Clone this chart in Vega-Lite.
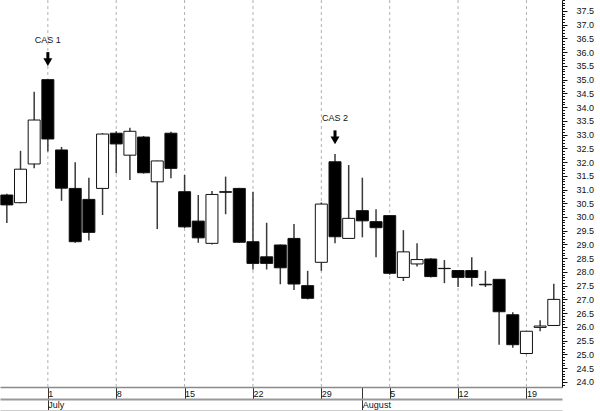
{
 "$schema": "https://vega.github.io/schema/vega-lite/v6.json",
 "width": 562,
 "height": 387,
 "autosize": {"type": "none"},
 "padding": {"left": 0, "top": 0, "right": 38, "bottom": 24},
 "background": "white",
 "config": {
  "view": {"stroke": null},
  "font": "Liberation Sans",
  "axis": {"labelFont": "Liberation Sans", "labelFontSize": 9, "labelColor": "#111", "grid": false, "title": null}
 },
 "datasets": {
  "prices": [
   {"date": "2002-06-26", "i": -3, "open": 30.8, "high": 30.85, "low": 29.78, "close": 30.44},
   {"date": "2002-06-27", "i": -2, "open": 30.52, "high": 32.41, "low": 30.5, "close": 31.74},
   {"date": "2002-06-28", "i": -1, "open": 31.93, "high": 34.56, "low": 31.77, "close": 33.53},
   {"date": "2002-07-01", "i": 0, "open": 35.0, "high": 35.0, "low": 32.38, "close": 32.84},
   {"date": "2002-07-02", "i": 1, "open": 32.44, "high": 32.55, "low": 30.59, "close": 31.05},
   {"date": "2002-07-03", "i": 2, "open": 31.04, "high": 31.99, "low": 29.06, "close": 29.1},
   {"date": "2002-07-04", "i": 3, "open": 30.64, "high": 31.43, "low": 29.14, "close": 29.44},
   {"date": "2002-07-05", "i": 4, "open": 31.04, "high": 33.05, "low": 30.07, "close": 33.02},
   {"date": "2002-07-08", "i": 5, "open": 33.05, "high": 33.12, "low": 31.59, "close": 32.66},
   {"date": "2002-07-09", "i": 6, "open": 32.25, "high": 33.25, "low": 31.35, "close": 33.12},
   {"date": "2002-07-10", "i": 7, "open": 32.91, "high": 32.95, "low": 31.58, "close": 31.61},
   {"date": "2002-07-11", "i": 8, "open": 31.28, "high": 32.05, "low": 29.56, "close": 32.04},
   {"date": "2002-07-12", "i": 9, "open": 33.05, "high": 33.1, "low": 31.41, "close": 31.77},
   {"date": "2002-07-15", "i": 10, "open": 30.92, "high": 31.53, "low": 29.6, "close": 29.64},
   {"date": "2002-07-16", "i": 11, "open": 29.85, "high": 30.8, "low": 29.06, "close": 29.24},
   {"date": "2002-07-17", "i": 12, "open": 29.04, "high": 30.95, "low": 29.0, "close": 30.82},
   {"date": "2002-07-18", "i": 13, "open": 30.92, "high": 31.47, "low": 30.1, "close": 30.9},
   {"date": "2002-07-19", "i": 14, "open": 31.04, "high": 31.06, "low": 29.06, "close": 29.08},
   {"date": "2002-07-22", "i": 15, "open": 29.1, "high": 30.92, "low": 28.09, "close": 28.31},
   {"date": "2002-07-23", "i": 16, "open": 28.55, "high": 29.79, "low": 28.09, "close": 28.31},
   {"date": "2002-07-24", "i": 17, "open": 28.98, "high": 29.0, "low": 27.55, "close": 28.15},
   {"date": "2002-07-25", "i": 18, "open": 29.22, "high": 29.74, "low": 27.34, "close": 27.56},
   {"date": "2002-07-26", "i": 19, "open": 27.5, "high": 28.04, "low": 27.0, "close": 27.04},
   {"date": "2002-07-29", "i": 20, "open": 28.35, "high": 30.53, "low": 28.04, "close": 30.47},
   {"date": "2002-07-30", "i": 21, "open": 32.01, "high": 32.29, "low": 29.04, "close": 29.28},
   {"date": "2002-07-31", "i": 22, "open": 29.22, "high": 31.89, "low": 29.2, "close": 29.95},
   {"date": "2002-08-01", "i": 23, "open": 30.23, "high": 31.43, "low": 29.26, "close": 29.86},
   {"date": "2002-08-02", "i": 24, "open": 29.83, "high": 30.28, "low": 28.53, "close": 29.61},
   {"date": "2002-08-05", "i": 25, "open": 30.05, "high": 30.05, "low": 27.9, "close": 27.95},
   {"date": "2002-08-06", "i": 26, "open": 27.8, "high": 29.52, "low": 27.67, "close": 28.73},
   {"date": "2002-08-07", "i": 27, "open": 28.29, "high": 29.04, "low": 28.2, "close": 28.45},
   {"date": "2002-08-08", "i": 28, "open": 28.47, "high": 28.5, "low": 27.8, "close": 27.83},
   {"date": "2002-08-09", "i": 29, "open": 28.13, "high": 28.43, "low": 27.59, "close": 28.12},
   {"date": "2002-08-12", "i": 30, "open": 28.05, "high": 28.05, "low": 27.45, "close": 27.8},
   {"date": "2002-08-13", "i": 31, "open": 28.05, "high": 28.53, "low": 27.47, "close": 27.8},
   {"date": "2002-08-14", "i": 32, "open": 27.55, "high": 28.04, "low": 27.45, "close": 27.53},
   {"date": "2002-08-15", "i": 33, "open": 27.73, "high": 27.73, "low": 25.35, "close": 26.55},
   {"date": "2002-08-16", "i": 34, "open": 26.44, "high": 26.53, "low": 25.24, "close": 25.35},
   {"date": "2002-08-19", "i": 35, "open": 25.03, "high": 25.85, "low": 25.0, "close": 25.84},
   {"date": "2002-08-20", "i": 36, "open": 25.98, "high": 26.24, "low": 25.84, "close": 26.03},
   {"date": "2002-08-21", "i": 37, "open": 26.05, "high": 27.57, "low": 26.05, "close": 27.0}
  ],
  "weeks": [
   {"i": 0, "day": "1"}, {"i": 5, "day": "8"}, {"i": 10, "day": "15"}, {"i": 15, "day": "22"},
   {"i": 20, "day": "29"}, {"i": 25, "day": "5"}, {"i": 30, "day": "12"}, {"i": 35, "day": "19"}
  ],
  "months": [{"i": 0, "month": "July"}, {"i": 23, "month": "August"}],
  "notes": [{"i": 0, "label": "CAS 1", "tip": 35.53}, {"i": 21, "label": "CAS 2", "tip": 32.68}]
 },
 "resolve": {"scale": {"x": "independent", "y": "independent"}},
 "layer": [
  {
   "layer": [
    {
     "data": {"name": "weeks"},
     "mark": {"type": "rule", "color": "#b0b0b0", "strokeDash": [3, 3], "strokeWidth": 1},
     "encoding": {
      "x": {"field": "i", "type": "quantitative", "scale": {"domain": [-3.5, 37.6], "nice": false, "zero": false, "padding": 0}, "axis": null}
     }
    },
    {
     "data": {"name": "prices"},
     "mark": {"type": "rule", "color": "#3a3a3a", "strokeWidth": 1.5},
     "encoding": {
      "x": {"field": "i", "type": "quantitative", "scale": {"domain": [-3.5, 37.6], "nice": false, "zero": false, "padding": 0}, "axis": null},
      "y": {"field": "low", "type": "quantitative", "scale": {"domain": [23.81, 37.9], "nice": false, "zero": false, "padding": 0}, "axis": null},
      "y2": {"field": "high"}
     }
    },
    {
     "data": {"name": "prices"},
     "mark": {"type": "bar", "width": 12, "stroke": "#111", "strokeWidth": 1},
     "encoding": {
      "x": {"field": "i", "type": "quantitative", "scale": {"domain": [-3.5, 37.6], "nice": false, "zero": false, "padding": 0}, "axis": null},
      "y": {"field": "open", "type": "quantitative", "scale": {"domain": [23.81, 37.9], "nice": false, "zero": false, "padding": 0}, "axis": null},
      "y2": {"field": "close"},
      "fill": {"condition": {"test": "datum.close < datum.open", "value": "#000"}, "value": "#fff"}
     }
    },
    {
     "data": {"name": "notes"},
     "mark": {"type": "tick", "orient": "vertical", "thickness": 3, "size": 8, "color": "#000", "opacity": 1, "yOffset": -9},
     "encoding": {
      "x": {"field": "i", "type": "quantitative", "scale": {"domain": [-3.5, 37.6], "nice": false, "zero": false, "padding": 0}, "axis": null},
      "y": {"field": "tip", "type": "quantitative", "scale": {"domain": [23.81, 37.9], "nice": false, "zero": false, "padding": 0}, "axis": null}
     }
    },
    {
     "data": {"name": "notes"},
     "mark": {"type": "point", "shape": "triangle-down", "filled": true, "color": "#000", "opacity": 1, "size": 80, "yOffset": -3},
     "encoding": {
      "x": {"field": "i", "type": "quantitative", "scale": {"domain": [-3.5, 37.6], "nice": false, "zero": false, "padding": 0}, "axis": null},
      "y": {"field": "tip", "type": "quantitative", "scale": {"domain": [23.81, 37.9], "nice": false, "zero": false, "padding": 0}, "axis": null}
     }
    },
    {
     "data": {"name": "notes"},
     "mark": {"type": "text", "fontSize": 9, "font": "Liberation Sans", "color": "#111", "dy": -25, "baseline": "middle", "align": "center"},
     "encoding": {
      "x": {"field": "i", "type": "quantitative", "scale": {"domain": [-3.5, 37.6], "nice": false, "zero": false, "padding": 0}, "axis": null},
      "y": {"field": "tip", "type": "quantitative", "scale": {"domain": [23.81, 37.9], "nice": false, "zero": false, "padding": 0}, "axis": null},
      "text": {"field": "label"}
     }
    }
   ]
  },
  {
   "data": {"name": "weeks"},
   "mark": {"type": "rule", "opacity": 0},
   "encoding": {
    "x": {"field": "i", "type": "quantitative", "scale": {"domain": [-3.5, 37.6], "nice": false, "zero": false, "padding": 0},
     "axis": {"orient": "bottom", "values": [0, 5, 10, 15, 20, 23, 25, 30, 35],
      "labelExpr": "datum.value==0?'1':datum.value==5?'8':datum.value==10?'15':datum.value==15?'22':datum.value==20?'29':datum.value==25?'5':datum.value==30?'12':datum.value==35?'19':''",
      "domainColor": "#8a8a8a", "domainWidth": 1.5, "tickSize": 12, "tickColor": "#333", "tickWidth": 1,
      "labelAlign": "left", "labelBaseline": "middle", "labelPadding": -6, "labelDx": 2,
      "labelFlush": false, "labelOverlap": false, "labelBound": false}}
   }
  },
  {
   "data": {"name": "months"},
   "mark": {"type": "rule", "opacity": 0},
   "encoding": {
    "x": {"field": "i", "type": "quantitative", "scale": {"domain": [-3.5, 37.6], "nice": false, "zero": false, "padding": 0},
     "axis": {"orient": "bottom", "offset": 12, "values": [0, 23], "labelExpr": "datum.value==0?'July':'August'",
      "domainColor": "#999", "domainWidth": 2, "tickSize": 11, "tickColor": "#333", "tickWidth": 1,
      "labelAlign": "left", "labelBaseline": "middle", "labelPadding": -5.5, "labelDx": 1,
      "labelFlush": false, "labelOverlap": false, "labelBound": false}}
   }
  },
  {
   "data": {"name": "months"},
   "mark": {"type": "rule", "opacity": 0},
   "encoding": {
    "x": {"field": "i", "type": "quantitative", "scale": {"domain": [-3.5, 37.6], "nice": false, "zero": false, "padding": 0},
     "axis": {"orient": "bottom", "offset": 23, "labels": false, "ticks": false, "domainColor": "#cccccc", "domainWidth": 1}}
   }
  },
  {
   "data": {"name": "prices"},
   "mark": {"type": "rule", "opacity": 0},
   "encoding": {
    "y": {"field": "low", "type": "quantitative", "scale": {"domain": [23.81, 37.9], "nice": false, "zero": false, "padding": 0},
     "axis": {"orient": "right", "values": [24, 24.5, 25, 25.5, 26, 26.5, 27, 27.5, 28, 28.5, 29, 29.5, 30, 30.5, 31, 31.5, 32, 32.5, 33, 33.5, 34, 34.5, 35, 35.5, 36, 36.5, 37, 37.5],
      "format": ".1f", "tickSize": 5, "tickColor": "#111", "domainColor": "#111", "domainWidth": 1,
      "labelPadding": 9, "labelFlush": false, "labelOverlap": false, "labelBound": false, "labelBaseline": "middle"}}
   }
  },
  {
   "data": {"name": "notes"},
   "mark": {"type": "rule", "opacity": 0},
   "encoding": {
    "y": {"field": "tip", "type": "quantitative", "scale": {"domain": [23.81, 37.9], "nice": false, "zero": false, "padding": 0},
     "axis": {"orient": "right", "labels": false, "domain": false, "tickSize": 2.5, "tickColor": "#111",
      "values": [23.9, 24.0, 24.1, 24.2, 24.3, 24.4, 24.5, 24.6, 24.7, 24.8, 24.9, 25.0, 25.1, 25.2, 25.3, 25.4, 25.5, 25.6, 25.7, 25.8, 25.9, 26.0, 26.1, 26.2, 26.3, 26.4, 26.5, 26.6, 26.7, 26.8, 26.9, 27.0, 27.1, 27.2, 27.3, 27.4, 27.5, 27.6, 27.7, 27.8, 27.9, 28.0, 28.1, 28.2, 28.3, 28.4, 28.5, 28.6, 28.7, 28.8, 28.9, 29.0, 29.1, 29.2, 29.3, 29.4, 29.5, 29.6, 29.7, 29.8, 29.9, 30.0, 30.1, 30.2, 30.3, 30.4, 30.5, 30.6, 30.7, 30.8, 30.9, 31.0, 31.1, 31.2, 31.3, 31.4, 31.5, 31.6, 31.7, 31.8, 31.9, 32.0, 32.1, 32.2, 32.3, 32.4, 32.5, 32.6, 32.7, 32.8, 32.9, 33.0, 33.1, 33.2, 33.3, 33.4, 33.5, 33.6, 33.7, 33.8, 33.9, 34.0, 34.1, 34.2, 34.3, 34.4, 34.5, 34.6, 34.7, 34.8, 34.9, 35.0, 35.1, 35.2, 35.3, 35.4, 35.5, 35.6, 35.7, 35.8, 35.9, 36.0, 36.1, 36.2, 36.3, 36.4, 36.5, 36.6, 36.7, 36.8, 36.9, 37.0, 37.1, 37.2, 37.3, 37.4, 37.5, 37.6, 37.7, 37.8, 37.9]}}
   }
  }
 ]
}
